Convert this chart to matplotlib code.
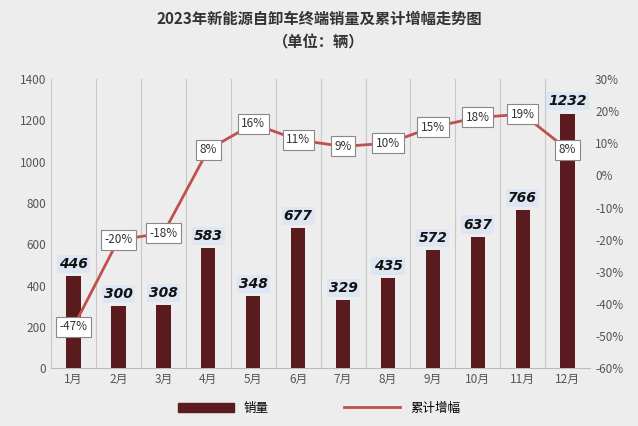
import matplotlib.pyplot as plt
import numpy as np
from matplotlib.patches import Patch
from matplotlib.lines import Line2D

plt.rcParams['font.family'] = ['Noto Sans CJK SC', 'DejaVu Sans']

months = ['1月', '2月', '3月', '4月', '5月', '6月', '7月', '8月', '9月', '10月', '11月', '12月']
sales = [446, 300, 308, 583, 348, 677, 329, 435, 572, 637, 766, 1232]
growth = [-47, -20, -18, 8, 16, 11, 9, 10, 15, 18, 19, 8]

bg = '#ededed'
fig = plt.figure(figsize=(6.38, 4.26), dpi=100, facecolor=bg)
ax = fig.add_axes([0.08, 0.135, 0.845, 0.68], facecolor=bg)
x = np.arange(len(months))

ax.bar(x, sales, width=0.32, color='#5a1b1e', zorder=3)
for i, v in enumerate(sales):
    ax.text(i, v + 25, str(v), ha='center', va='bottom', fontsize=10, fontweight='bold',
            style='italic', family='DejaVu Sans', color='#111111', zorder=5,
            bbox=dict(boxstyle='square,pad=0.15', fc='#dde6f2', ec='none'))
ax.set_ylim(0, 1400)
ax.set_yticks(range(0, 1401, 200))
ax.set_xlim(-0.5, 11.5)
ax.set_xticks(x)
ax.set_xticklabels(months)
for xv in np.arange(-0.5, 12, 1):
    ax.axvline(xv, color='#c8c8c8', lw=0.8, zorder=1)
for s in ax.spines.values():
    s.set_visible(False)
ax.spines['bottom'].set_visible(True)
ax.spines['bottom'].set_color('#bbbbbb')
ax.tick_params(length=0, labelsize=8.5, colors='#555555')

ax2 = ax.twinx()
ax2.plot(x, growth, color='#c0504d', lw=2, zorder=4)
for i, v in enumerate(growth):
    ax2.text(i, v, f'{v}%', ha='center', va='center', fontsize=8.5, color='#333333', zorder=6,
             bbox=dict(boxstyle='square,pad=0.3', fc='white', ec='#888888', lw=0.8))
ax2.set_ylim(-60, 30)
ax2.set_yticks(range(-60, 31, 10))
ax2.set_yticklabels([f'{t}%' for t in range(-60, 31, 10)])
for s in ax2.spines.values():
    s.set_visible(False)
ax2.tick_params(length=0, labelsize=8.5, colors='#555555')

fig.text(0.5, 0.955, '2023年新能源自卸车终端销量及累计增幅走势图', ha='center', va='center',
         fontsize=11, fontweight='bold', color='#333333')
fig.text(0.5, 0.9, '（单位：辆）', ha='center', va='center', fontsize=11, fontweight='bold', color='#333333')

fig.legend(handles=[Patch(color='#5a1b1e', label='销量'),
                    Line2D([], [], color='#c0504d', lw=2, label='累计增幅')],
           loc='lower center', bbox_to_anchor=(0.5, 0.0), ncol=2, frameon=False,
           fontsize=9, handlelength=4.5, columnspacing=6)

fig.savefig('out.png', dpi=100, facecolor=bg)
